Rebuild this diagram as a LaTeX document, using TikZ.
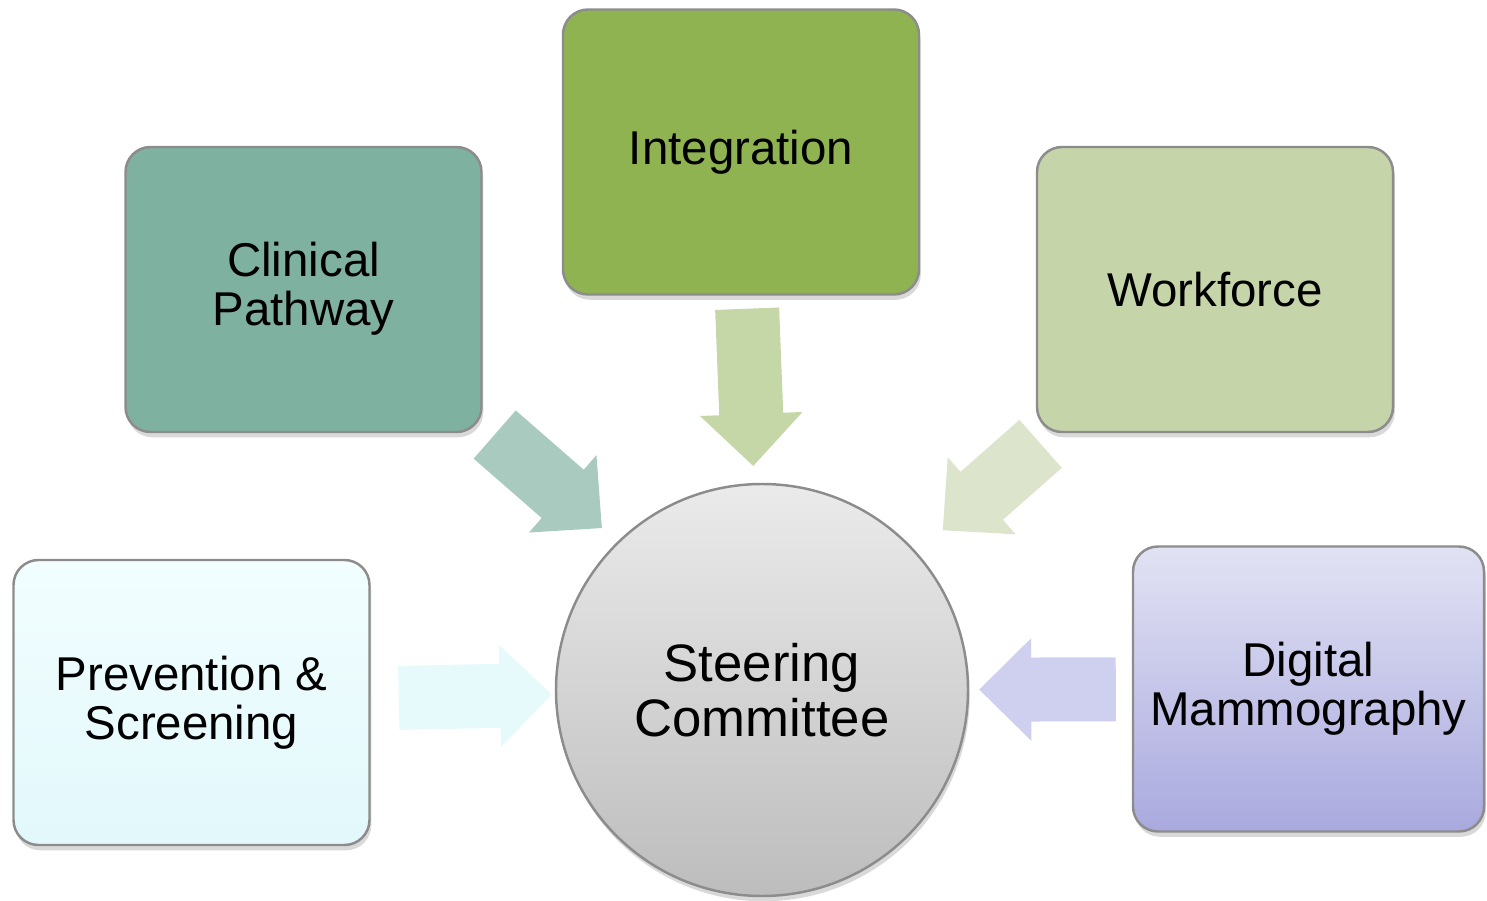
\documentclass[tikz,border=0pt]{standalone}
\usepackage{fontspec}
\setmainfont{Liberation Sans}
\usetikzlibrary{arrows.meta,shadows}

\definecolor{clinfill}{HTML}{7FB1A1}
\definecolor{integfill}{HTML}{8FB351}
\definecolor{workfill}{HTML}{C6D4A9}
\definecolor{prevtop}{HTML}{F2FEFF}
\definecolor{prevbot}{HTML}{E2F8FB}
\definecolor{digitop}{HTML}{E2E2F4}
\definecolor{digibot}{HTML}{A9A9DF}
\definecolor{clinarrow}{HTML}{A8CABF}
\definecolor{integarrow}{HTML}{C6D7A7}
\definecolor{workarrow}{HTML}{DCE5CC}
\definecolor{prevarrow}{HTML}{E6FAFC}
\definecolor{digiarrow}{HTML}{CFCFEF}

\tikzset{
  box/.style={rectangle, rounded corners=0.25cm, draw=black!45, line width=0.7pt,
    minimum width=3.56cm, minimum height=2.85cm, align=center,
    font=\fontsize{13.5}{14}\selectfont,
    drop shadow={shadow xshift=0.5pt, shadow yshift=-1.5pt, opacity=0.3}},
  hub/.style={circle, draw=black!45, line width=0.7pt, minimum size=4.12cm,
    top color=black!8, bottom color=black!26, align=center,
    font=\fontsize{15}{15.6}\selectfont,
    drop shadow={shadow xshift=0.5pt, shadow yshift=-1.5pt, opacity=0.3}},
  bigarrow/.style={line width=0.64cm,
    -{Triangle[width=1.02cm,length=0.52cm,line width=1pt]}}
}

\begin{document}
\begin{tikzpicture}

\useasboundingbox (0,0) rectangle (14.87,9.00);

% centre
\node[hub] (steer) at (7.62,2.10) {Steering\\Committee};

% outer boxes
\node[box, fill=clinfill, text depth=0.12cm] (clin) at (3.035,6.105) {Clinical\\Pathway};
\node[box, fill=integfill] (integ) at (7.41,7.48) {Integration};
\node[box, fill=workfill] (work) at (12.15,6.105) {Workforce};
\node[box, top color=prevtop, bottom color=prevbot] (prev) at (1.915,1.975) {Prevention \&\\Screening};
\node[box, minimum width=3.51cm, top color=digitop, bottom color=digibot] (digi) at (13.085,2.11) {Digital\\Mammography};

% arrows into the committee
\draw[bigarrow, draw=clinarrow, shorten <=0.21cm, shorten >=0.20cm,
  transform canvas={shift={(0.11,0.125)}}] (clin) -- (steer);
\draw[bigarrow, draw=integarrow, shorten <=0.13cm, shorten >=0.17cm] (integ) -- (steer);
\draw[bigarrow, draw=workarrow, shorten <=0.16cm, shorten >=0.34cm] (work) -- (steer);
\draw[bigarrow, draw=prevarrow, shorten <=0.28cm, shorten >=0.03cm] (prev) -- (steer);
\draw[bigarrow, draw=digiarrow, shorten <=0.16cm, shorten >=0.10cm] (digi) -- (steer);

\end{tikzpicture}
\end{document}
